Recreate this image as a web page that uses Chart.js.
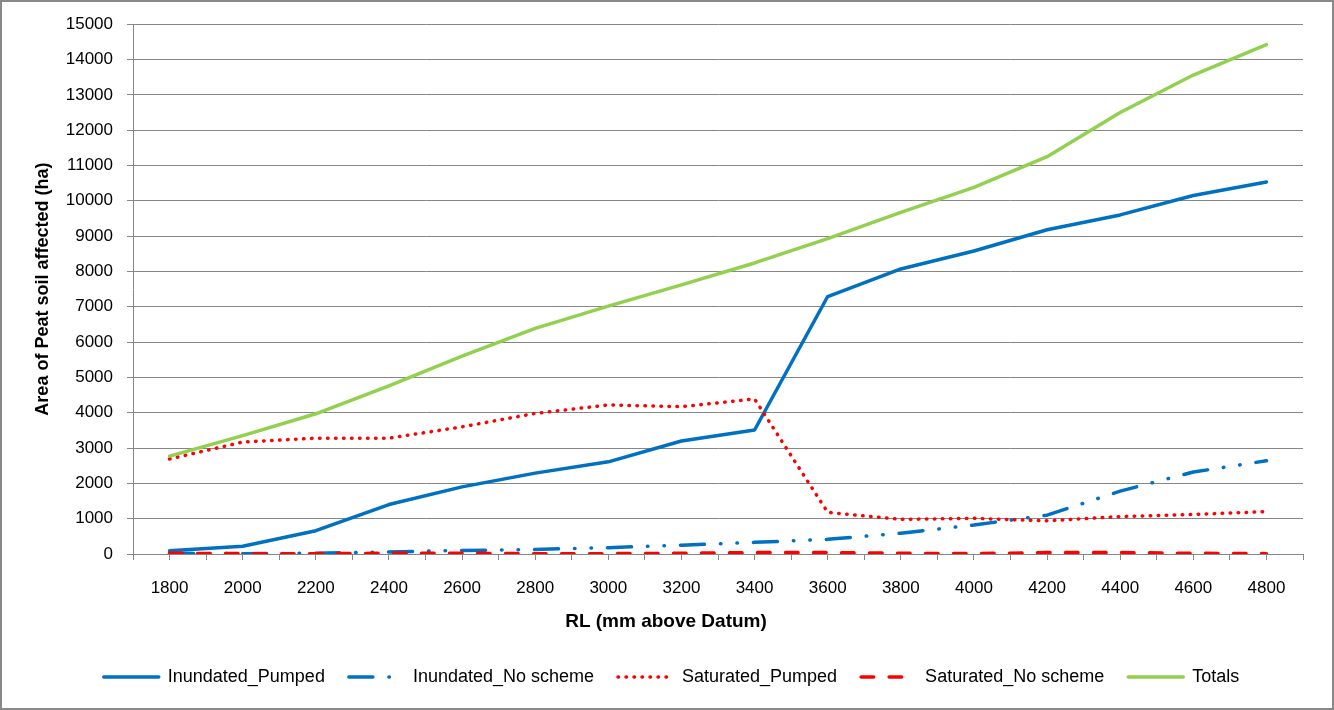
<!DOCTYPE html>
<html>
<head>
<meta charset="utf-8">
<script src="https://cdn.jsdelivr.net/npm/chart.js@4/dist/chart.umd.min.js"></script>
<style>
html,body{margin:0;padding:0;background:#fff;}
#wrap{width:1334px;height:710px;position:relative;}
canvas{display:block;}
</style>
</head>
<body>
<div id="wrap"><canvas id="c" width="1334" height="710"></canvas></div>
<script>
// ---- data ----
const rl = [1800, 2000, 2200, 2400, 2600, 2800, 3000, 3200, 3400, 3600, 3800, 4000, 4200, 4400, 4600, 4800];
const inundatedPumped   = [90, 220, 660, 1400, 1900, 2290, 2610, 3200, 3510, 7290, 8070, 8580, 9180, 9600, 10150, 10530];
const inundatedNoScheme = [20, 10, 20, 60, 100, 130, 180, 250, 330, 415, 590, 820, 1100, 1780, 2320, 2640];
const saturatedPumped   = [2690, 3170, 3280, 3280, 3600, 3980, 4220, 4170, 4390, 1180, 980, 1010, 940, 1060, 1120, 1200];
const saturatedNoScheme = [20, 10, 10, 20, 20, 10, 10, 20, 40, 40, 20, 10, 40, 40, 20, 10];
const totals            = [2770, 3350, 3970, 4760, 5600, 6390, 7020, 7620, 8240, 8930, 9670, 10380, 11250, 12500, 13560, 14420];
const seriesNames = ['Inundated_Pumped', 'Inundated_No scheme', 'Saturated_Pumped', 'Saturated_No scheme', 'Totals'];
const yTickValues = [0, 1000, 2000, 3000, 4000, 5000, 6000, 7000, 8000, 9000, 10000, 11000, 12000, 13000, 14000, 15000];
const xTickLabels = rl.map(String);
const xAxisTitle = 'RL (mm above Datum)';
const yAxisTitle = 'Area of Peat soil affected (ha)';

const FONT = '"Liberation Sans", Arial, sans-serif';
const GRID = '#868686';

function pts(arr) { return rl.map((x, i) => ({ x: x, y: arr[i] })); }

const styleFor = [
  { color: '#0070C0', dash: [], cap: 'round' },
  { color: '#0070C0', dash: [24, 16, 0.5, 16, 0.5, 16], cap: 'round' },
  { color: '#FF0000', dash: [0.5, 7.5], cap: 'round' },
  { color: '#FF0000', dash: [12.5, 15.5], cap: 'round' },
  { color: '#92D050', dash: [], cap: 'round' }
];
const seriesData = [inundatedPumped, inundatedNoScheme, saturatedPumped, saturatedNoScheme, totals];

const datasets = seriesNames.map((name, i) => ({
  label: name,
  data: pts(seriesData[i]),
  borderColor: styleFor[i].color,
  backgroundColor: styleFor[i].color,
  borderWidth: 3.5,
  borderDash: styleFor[i].dash,
  borderCapStyle: styleFor[i].cap,
  borderJoinStyle: 'round',
  pointRadius: 0,
  pointHoverRadius: 0,
  tension: 0,
  fill: false,
  order: seriesNames.length - i
}));

const framePlugin = {
  id: 'framePlugin',
  beforeDraw(chart) {
    const ctx = chart.ctx;
    ctx.save();
    ctx.fillStyle = '#ffffff';
    ctx.fillRect(0, 0, chart.width, chart.height);
    ctx.restore();
  },
  afterDraw(chart) {
    const ctx = chart.ctx;
    ctx.save();
    ctx.fillStyle = '#000';
    ctx.font = 'bold 19px ' + FONT;
    ctx.textAlign = 'center';
    ctx.textBaseline = 'middle';
    ctx.fillText(xAxisTitle, 666, 622);
    ctx.strokeStyle = '#898989';
    ctx.lineWidth = 2;
    ctx.strokeRect(1, 1, chart.width - 2, chart.height - 2);
    ctx.restore();
  }
};

new Chart(document.getElementById('c'), {
  type: 'line',
  data: { datasets: datasets },
  options: {
    responsive: false,
    animation: false,
    devicePixelRatio: 1,
    layout: { padding: { left: 20, right: 11, top: 24, bottom: 14 } },
    plugins: {
      tooltip: { enabled: false },
      legend: {
        position: 'bottom',
        align: 'center',
        labels: {
          usePointStyle: true,
          pointStyle: 'line',
          pointStyleWidth: 55,
          color: '#000',
          font: { family: FONT, size: 18 },
          padding: 24,
          generateLabels(chart) {
            return chart.data.datasets.map((ds, i) => ({
              text: ds.label,
              fillStyle: ds.borderColor,
              strokeStyle: ds.borderColor,
              lineWidth: ds.borderWidth,
              lineDash: ds.borderDash,
              lineDashOffset: 0,
              lineCap: ds.borderCapStyle,
              lineJoin: 'round',
              pointStyle: 'line',
              fontColor: '#000',
              hidden: false,
              datasetIndex: i
            }));
          }
        }
      }
    },
    scales: {
      x: {
        type: 'linear',
        min: 1700,
        max: 4900,
        ticks: {
          stepSize: 100,
          autoSkip: false,
          maxRotation: 0,
          minRotation: 0,
          padding: 18,
          color: '#000',
          font: { family: FONT, size: 17 },
          callback: (v) => (rl.includes(v) ? xTickLabels[rl.indexOf(v)] : '')
        },
        grid: { drawOnChartArea: false, drawTicks: true, tickLength: 6, color: GRID, lineWidth: 1 },
        border: { display: true, color: GRID, width: 1 },
        title: { display: false },
        afterFit(s) { s.height = 90; }
      },
      y: {
        type: 'linear',
        position: 'left',
        min: 0,
        max: 15000,
        afterBuildTicks(s) { s.ticks = yTickValues.map(v => ({ value: v })); },
        ticks: {
          padding: 14,
          color: '#000',
          font: { family: FONT, size: 17 },
          callback: (v) => String(v)
        },
        grid: { color: GRID, lineWidth: 1, tickLength: 6 },
        border: { display: true, color: GRID, width: 1 },
        title: {
          display: true,
          text: yAxisTitle,
          color: '#000',
          font: { family: FONT, size: 18, weight: 'bold' },
          padding: { top: 12, bottom: 0 }
        },
        afterFit(s) { s.width = 113; }
      },
      yRight: {
        type: 'linear',
        position: 'right',
        display: true,
        grid: { display: false, drawTicks: false },
        ticks: { display: false },
        border: { display: false },
        afterFit(s) { s.width = 20; }
      }
    }
  },
  plugins: [framePlugin]
});
</script>
</body>
</html>
